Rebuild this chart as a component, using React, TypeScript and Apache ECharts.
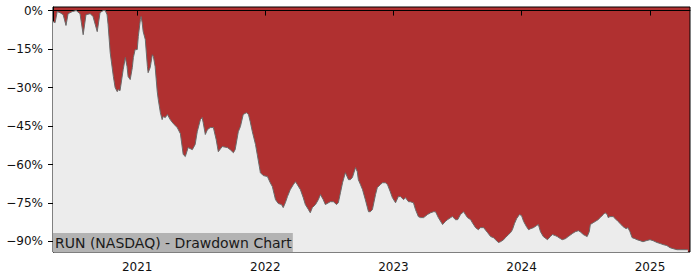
import React, { useEffect, useRef } from "react";
import * as echarts from "echarts";

const dates: string[] = [
  "2020-05-06","2020-05-12","2020-05-18","2020-05-26","2020-06-04","2020-06-12","2020-06-18","2020-06-30",
  "2020-07-11","2020-07-22","2020-07-31","2020-08-08","2020-08-20","2020-08-28","2020-09-09","2020-09-17",
  "2020-09-26","2020-10-02","2020-10-07","2020-10-10","2020-10-16","2020-10-25","2020-10-30","2020-11-05",
  "2020-11-08","2020-11-13","2020-11-22","2020-11-28","2020-12-03","2020-12-06","2020-12-12","2020-12-18",
  "2020-12-21","2020-12-26","2021-01-01","2021-01-04","2021-01-10","2021-01-12","2021-01-15","2021-01-18",
  "2021-01-24","2021-01-30","2021-02-01","2021-02-07","2021-02-13","2021-02-16","2021-02-21","2021-02-27",
  "2021-03-02","2021-03-08","2021-03-13","2021-03-16","2021-03-22","2021-03-28","2021-04-05","2021-04-14",
  "2021-04-25","2021-05-04","2021-05-12","2021-05-18","2021-05-26","2021-06-07","2021-06-15","2021-06-21",
  "2021-06-30","2021-07-05","2021-07-08","2021-07-14","2021-07-20","2021-07-28","2021-08-06","2021-08-14",
  "2021-08-20","2021-08-31","2021-09-15","2021-09-23","2021-10-02","2021-10-07","2021-10-16","2021-10-22",
  "2021-10-30","2021-11-08","2021-11-14","2021-11-19","2021-11-25","2021-12-04","2021-12-09","2021-12-18",
  "2021-12-26","2022-01-07","2022-01-15","2022-01-21","2022-01-30","2022-02-07","2022-02-16","2022-02-21",
  "2022-02-27","2022-03-05","2022-03-13","2022-03-22","2022-03-28","2022-04-02","2022-04-11","2022-04-19",
  "2022-04-25","2022-05-04","2022-05-09","2022-05-15","2022-05-24","2022-06-01","2022-06-07","2022-06-15",
  "2022-06-21","2022-06-30","2022-07-05","2022-07-14","2022-07-23","2022-07-28","2022-08-03","2022-08-09",
  "2022-08-17","2022-08-26","2022-08-31","2022-09-06","2022-09-15","2022-09-20","2022-09-23","2022-09-29",
  "2022-10-05","2022-10-13","2022-10-22","2022-10-27","2022-11-02","2022-11-11","2022-11-16","2022-11-25",
  "2022-12-01","2022-12-09","2022-12-15","2022-12-23","2022-12-29","2023-01-07","2023-01-15","2023-01-21",
  "2023-01-30","2023-02-04","2023-02-13","2023-02-18","2023-02-27","2023-03-05","2023-03-13","2023-03-19",
  "2023-03-28","2023-04-08","2023-04-17","2023-04-25","2023-05-01","2023-05-09","2023-05-21","2023-05-29",
  "2023-06-04","2023-06-13","2023-06-18","2023-06-27","2023-07-03","2023-07-11","2023-07-20","2023-07-25",
  "2023-07-31","2023-08-09","2023-08-14","2023-08-23","2023-08-31","2023-09-06","2023-09-15","2023-09-26",
  "2023-10-05","2023-10-13","2023-10-19","2023-10-27","2023-11-02","2023-11-11","2023-11-16","2023-11-25",
  "2023-12-01","2023-12-06","2023-12-12","2023-12-18","2023-12-26","2024-01-01","2024-01-07","2024-01-15",
  "2024-01-21","2024-01-27","2024-02-04","2024-02-13","2024-02-18","2024-02-24","2024-03-03","2024-03-15",
  "2024-03-23","2024-03-29","2024-04-06","2024-04-12","2024-04-21","2024-04-26","2024-05-05","2024-05-13",
  "2024-05-25","2024-06-02","2024-06-11","2024-06-16","2024-06-25","2024-07-06","2024-07-12","2024-07-15",
  "2024-07-23","2024-07-29","2024-08-06","2024-08-12","2024-08-21","2024-08-26","2024-09-01","2024-09-04",
  "2024-09-09","2024-09-18","2024-09-24","2024-10-02","2024-10-08","2024-10-16","2024-10-25","2024-10-30",
  "2024-11-05","2024-11-11","2024-11-19","2024-11-25","2024-12-04","2024-12-12","2024-12-21","2025-01-01",
  "2025-01-10","2025-01-21","2025-01-30","2025-02-07","2025-02-18","2025-02-27","2025-03-08","2025-03-19",
  "2025-03-28","2025-04-05","2025-04-14","2025-04-19"
];

const drawdown: number[] = [
  -4.3,-4.7,-0.4,-0.8,-1.6,-5.8,-1.2,-0.4,
  0,-1.2,-9.4,-1.6,-1.2,-2.3,-8.2,-0.8,
  0,0,-1.6,-5.5,-16.4,-25.7,-30.0,-31.6,
  -30.8,-31.2,-23.0,-18.3,-21.8,-25.7,-26.9,-22.2,
  -18.3,-15.2,-15.2,-10.1,-3.5,-2.3,-4.7,-8.2,
  -11.3,-21.8,-24.2,-22.2,-17.2,-17.9,-21.8,-31.6,
  -34.7,-39.8,-42.5,-41.3,-41.7,-40.5,-42.5,-44.1,
  -45.6,-48.0,-56.1,-56.9,-53.4,-54.2,-52.2,-47.2,
  -42.5,-41.7,-43.7,-48.3,-46.4,-45.6,-45.6,-50.3,
  -55.0,-53.0,-53.4,-54.2,-55.4,-54.2,-47.2,-45.2,
  -40.5,-39.8,-40.5,-43.3,-47.2,-52.2,-56.1,-63.2,
  -64.3,-64.7,-67.1,-68.6,-73.7,-75.2,-75.6,-76.8,
  -74.9,-72.5,-69.8,-67.8,-66.7,-67.8,-69.8,-72.9,
  -75.6,-77.6,-78.8,-76.8,-75.6,-73.7,-71.7,-73.7,
  -75.6,-74.9,-74.5,-74.5,-75.6,-74.9,-71.0,-67.1,
  -63.2,-65.9,-65.9,-65.1,-61.2,-62.8,-65.9,-67.8,
  -69.8,-73.7,-78.4,-78.4,-77.6,-71.7,-69.0,-67.8,
  -67.1,-67.1,-67.8,-70.6,-72.9,-74.9,-72.5,-72.5,
  -73.7,-72.9,-74.5,-74.5,-74.9,-77.6,-80.3,-80.7,
  -80.7,-79.5,-78.8,-78.4,-78.4,-80.7,-83.4,-82.2,
  -81.5,-80.7,-80.3,-81.5,-81.5,-79.5,-78.4,-79.5,
  -80.7,-81.5,-82.7,-84.6,-85.4,-84.6,-84.6,-86.5,
  -88.1,-88.5,-89.3,-90.4,-90.1,-89.3,-88.5,-87.3,
  -86.5,-85.4,-83.0,-81.1,-79.5,-79.9,-82.2,-84.2,
  -85.4,-85.0,-84.6,-83.8,-83.4,-86.2,-88.1,-89.3,
  -88.1,-87.3,-87.7,-88.1,-88.9,-89.3,-88.9,-88.1,
  -86.9,-86.2,-85.8,-86.2,-87.3,-88.1,-86.2,-83.4,
  -82.7,-82.2,-81.5,-80.7,-79.5,-78.8,-79.5,-80.7,
  -80.3,-80.3,-81.1,-82.2,-83.0,-84.2,-85.0,-84.6,
  -86.2,-88.5,-88.9,-89.3,-89.7,-90.1,-89.7,-89.3,
  -89.7,-90.4,-90.8,-91.2,-91.6,-92.4,-92.8,-93.2,
  -93.2,-93.2,-93.2,-93.2
];

const yTicks: number[] = [0, -15, -30, -45, -60, -75, -90];
const xTickYears: number[] = [2021, 2022, 2023, 2024, 2025];
const axisStart = "2020-05-06";
const axisEnd = "2025-04-25";
const chartTitle = "RUN (NASDAQ) - Drawdown Chart";

const FONT = "DejaVu Sans";

const toTs = (d: string) => {
  const [y, m, day] = d.split("-").map(Number);
  return Date.UTC(y, m - 1, day);
};

export default function App() {
  const ref = useRef<HTMLDivElement>(null);

  useEffect(() => {
    if (!ref.current) return;
    const chart = echarts.init(ref.current, undefined, { renderer: "svg" });
    const yearTs = xTickYears.map((y) => Date.UTC(y, 0, 1));
    const seriesData = dates.map((d, i) => [toTs(d), drawdown[i]]);

    chart.setOption({
      animation: false,
      backgroundColor: "#ffffff",
      title: {
        text: chartTitle,
        left: 53,
        bottom: 28,
        backgroundColor: "#b3b3b3",
        padding: [2, 1, 1, 2],
        textStyle: {
          fontFamily: FONT,
          fontSize: 14,
          fontWeight: "normal",
          color: "#1a1a1a",
          lineHeight: 16,
        },
      },
      grid: {
        left: 53,
        right: 10,
        top: 7,
        bottom: 28,
        containLabel: false,
        outerBoundsMode: "none",
        show: true,
        backgroundColor: "#b03030",
        borderColor: "#000000",
        borderWidth: 1,
      },
      xAxis: {
        type: "value",
        min: toTs(axisStart),
        max: toTs(axisEnd),
        axisLine: { show: true, lineStyle: { color: "#000", width: 1 } },
        axisTick: {
          show: true,
          length: 5,
          inside: false,
          lineStyle: { color: "#000", width: 1 },
          customValues: yearTs,
        },
        axisLabel: {
          customValues: yearTs,
          formatter: (v: number) => String(new Date(v).getUTCFullYear()),
          fontFamily: FONT,
          fontSize: 12,
          color: "#111",
          margin: 9,
        },
        splitLine: { show: false },
      },
      yAxis: {
        type: "value",
        min: -94.1,
        max: 1.4,
        axisLine: { show: true, lineStyle: { color: "#000", width: 1 } },
        axisTick: {
          show: true,
          length: 5,
          inside: false,
          lineStyle: { color: "#000", width: 1 },
          customValues: yTicks,
        },
        axisLabel: {
          customValues: yTicks,
          formatter: (v: number) => (v < 0 ? "\u2212" + Math.abs(v) : String(v)) + "%",
          fontFamily: FONT,
          fontSize: 12,
          color: "#111",
          margin: 10,
        },
        splitLine: { show: false },
      },
      series: [
        {
          type: "line",
          data: seriesData,
          showSymbol: false,
          symbol: "none",
          lineStyle: { color: "#6a6a6a", width: 1 },
          areaStyle: { color: "#ececec", opacity: 1, origin: "start" },
          z: 2,
        },
      ],
    });

    return () => chart.dispose();
  }, []);

  return (
    <div
      ref={ref}
      style={{ position: "fixed", left: 0, top: 0, width: 700, height: 280 }}
    />
  );
}
